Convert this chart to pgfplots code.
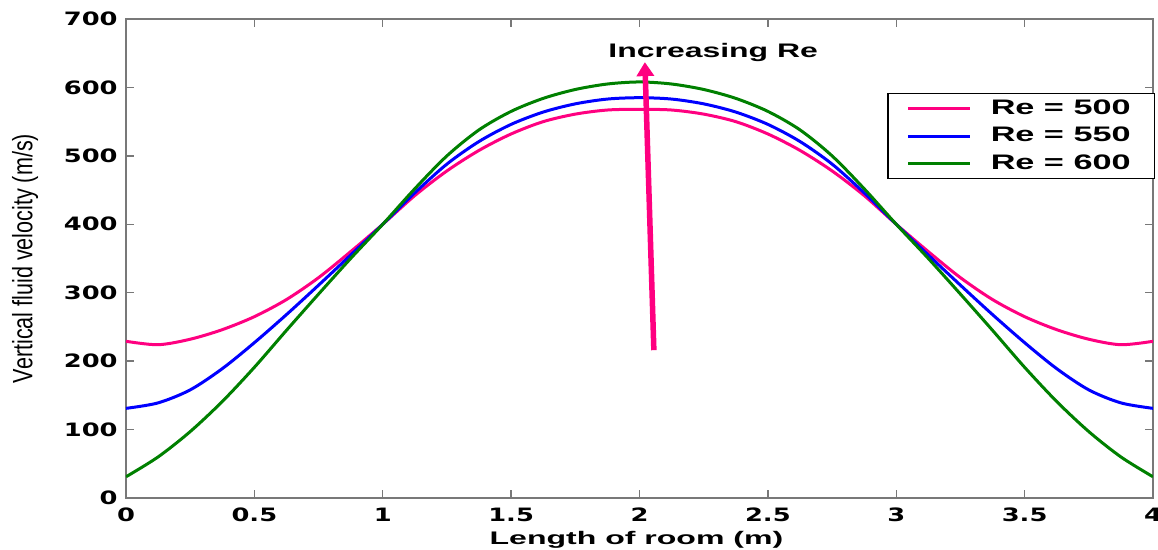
\documentclass[border=0pt]{standalone}
\usepackage{fontspec}
\usepackage{pgfplots}
\pgfplotsset{compat=1.18}
\usetikzlibrary{arrows.meta}
\newfontfamily\djv{DejaVu Sans}
\newfontfamily\lib{Liberation Sans}
\definecolor{pinkc}{RGB}{255,0,128}
\definecolor{greenc}{RGB}{0,128,0}
\definecolor{bluec}{RGB}{0,0,255}
\definecolor{axc}{RGB}{120,120,120}

\pgfplotstableread{
x v
0 229
0.125 224
0.25 232
0.375 246
0.5 265
0.625 290
0.75 322
0.875 360
1.0 400
1.125 442
1.25 478
1.375 508
1.5 532
1.625 550
1.75 561
1.875 567
2.0 568
2.125 567
2.25 561
2.375 550
2.5 532
2.625 508
2.75 478
2.875 442
3.0 400
3.125 360
3.25 322
3.375 290
3.5 265
3.625 246
3.75 232
3.875 224
4.0 229
}\reA

\pgfplotstableread{
x v
0 131
0.125 139
0.25 158
0.375 189
0.5 227
0.625 268
0.75 311
0.875 355
1.0 400
1.125 446
1.25 488
1.375 521
1.5 546
1.625 564
1.75 576
1.875 583
2.0 585
2.125 583
2.25 576
2.375 564
2.5 546
2.625 521
2.75 488
2.875 446
3.0 400
3.125 355
3.25 311
3.375 268
3.5 227
3.625 189
3.75 158
3.875 139
4.0 131
}\reB

\pgfplotstableread{
x v
0 31
0.125 60
0.25 97
0.375 141
0.5 191
0.625 245
0.75 298
0.875 350
1.0 400
1.125 452
1.25 500
1.375 538
1.5 565
1.625 584
1.75 597
1.875 605
2.0 608
2.125 605
2.25 597
2.375 584
2.5 565
2.625 538
2.75 500
2.875 452
3.0 400
3.125 350
3.25 298
3.375 245
3.5 191
3.625 141
3.75 97
3.875 60
4.0 31
}\reC

\begin{document}
\begin{tikzpicture}
\useasboundingbox (-63pt,-26pt) rectangle (516pt,249pt);
\begin{axis}[
  scale only axis, width=513.5pt, height=239.5pt,
  xmin=0, xmax=4, ymin=0, ymax=700,
  xtick={0,0.5,1,1.5,2,2.5,3,3.5,4},
  ytick={0,100,200,300,400,500,600,700},
  tick align=inside, major tick length=4pt,
  axis line style={draw=axc, line width=0.7pt},
  tick style={draw=axc, line width=0.7pt},
  /pgf/number format/assume math mode=true,
  xticklabel={\scalebox{1.4}[1]{\pgfmathprintnumber{\tick}}},
  yticklabel={\scalebox{1.4}[1]{\pgfmathprintnumber{\tick}}},
  xticklabel style={font=\djv\bfseries\fontsize{9.2}{11}\selectfont, inner sep=0pt, yshift=-4.75pt},
  yticklabel style={font=\djv\bfseries\fontsize{9.2}{11}\selectfont, inner sep=0pt, xshift=-4pt},
  xlabel={\scalebox{1.76}[1]{Length of room (m)}},
  xlabel style={font=\lib\bfseries\fontsize{9.1}{11}\selectfont, at={(axis description cs:0.497,-0.098)}, anchor=base, inner sep=0pt},
  ylabel={\scalebox{0.77}[1]{Vertical fluid velocity (m/s)}},
  ylabel style={font=\lib\fontsize{14}{16}\selectfont, at={(axis description cs:-0.0983,0.5)}, anchor=center, inner sep=0pt},
  legend style={at={(rel axis cs:1.002,0.8455)}, anchor=north east, draw=black, line width=0.6pt,
    font=\lib\bfseries\fontsize{10.5}{12}\selectfont, inner xsep=9.5pt, inner ysep=0.8pt,
    nodes={inner sep=2.4pt}, row sep=0pt, column sep=7pt},
  legend cell align=left,
  legend image code/.code={\draw[#1] (0pt,0pt) -- (31pt,0pt);},
]
\addplot[pinkc, line width=1.5pt, smooth] table[x=x,y=v] {\reA};
\addlegendentry{\scalebox{1.63}[1]{Re = 500}}
\addplot[bluec, line width=1.5pt, smooth] table[x=x,y=v] {\reB};
\addlegendentry{\scalebox{1.63}[1]{Re = 550}}
\addplot[greenc, line width=1.5pt, smooth] table[x=x,y=v] {\reC};
\addlegendentry{\scalebox{1.63}[1]{Re = 600}}
\draw[pinkc, line width=2.75pt, -{Triangle[width=8.5pt,length=7pt]}] (axis cs:2.056,216) -- (axis cs:2.021,637);
\node[anchor=base, inner sep=0pt, font=\lib\bfseries\fontsize{9.8}{12}\selectfont] at (axis cs:2.287,644) {\scalebox{1.63}[1]{Increasing Re}};
\end{axis}
\end{tikzpicture}
\end{document}
